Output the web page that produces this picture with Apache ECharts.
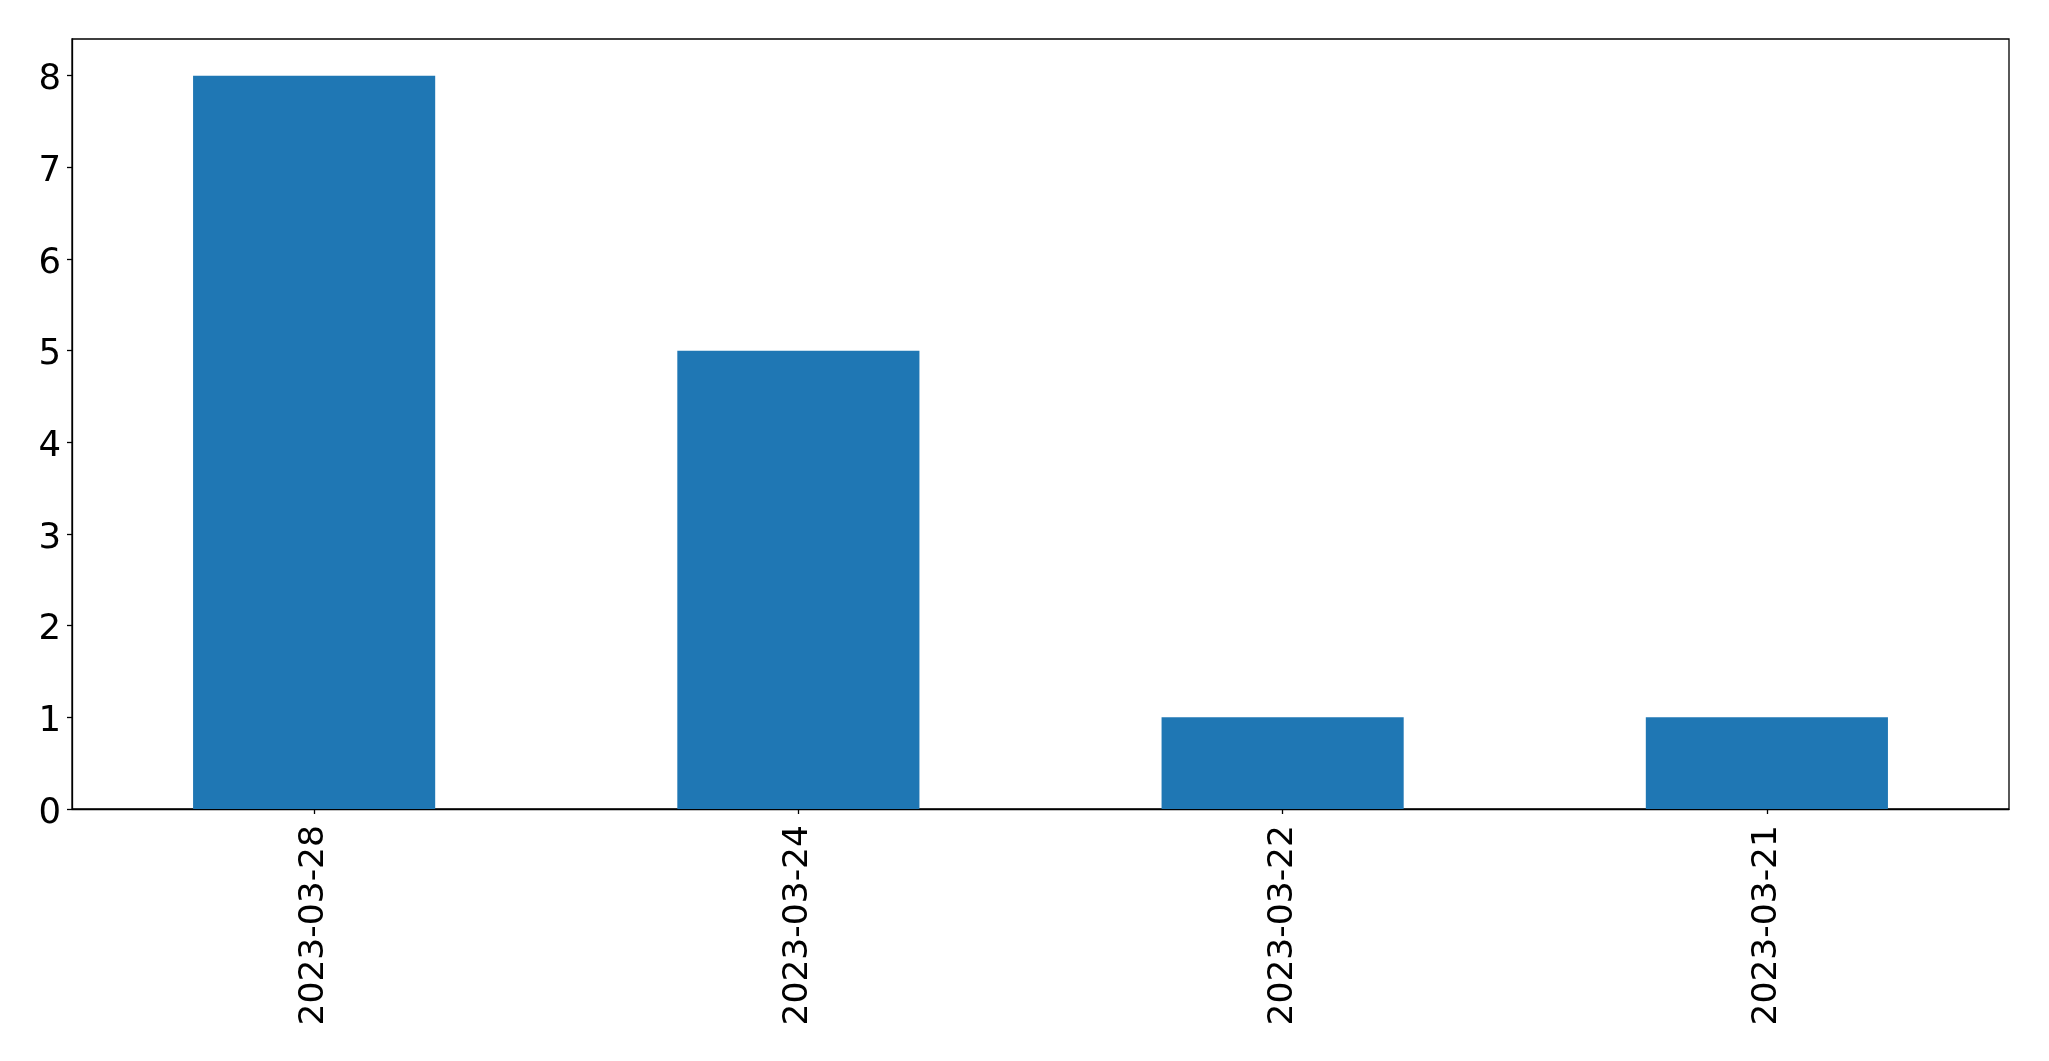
<!DOCTYPE html>
<html>
<head>
<meta charset="utf-8">
<script src="https://cdn.jsdelivr.net/npm/echarts@6/dist/echarts.min.js"></script>
<style>
html,body{margin:0;padding:0;background:#fff;}
#chart{width:2049px;height:1061px;}
</style>
</head>
<body>
<div id="chart"></div>
<script>
const categories = ['2023-03-28', '2023-03-24', '2023-03-22', '2023-03-21'];
const values = [8, 5, 1, 1];
const yTicks = [0, 1, 2, 3, 4, 5, 6, 7, 8];

const chart = echarts.init(document.getElementById('chart'), null, {renderer: 'canvas'});
const font = 'DejaVu Sans';
chart.setOption({
  animation: false,
  backgroundColor: '#ffffff',
  grid: {
    left: 72, top: 39, right: 40, bottom: 252,
    show: true, borderColor: '#000000', borderWidth: 1.3, backgroundColor: 'transparent'
  },
  xAxis: {
    type: 'category',
    data: categories,
    axisLine: {show: true, lineStyle: {color: '#000', width: 1.3}},
    axisTick: {show: true, alignWithLabel: true, length: 5, lineStyle: {color: '#000', width: 1.3}},
    axisLabel: {rotate: 90, fontFamily: font, fontSize: 34.5, color: '#000', margin: 16},
    splitLine: {show: false}
  },
  yAxis: {
    type: 'value',
    min: 0, max: 8.4, interval: 1,
    axisLine: {show: true, lineStyle: {color: '#000', width: 1.3}},
    axisTick: {show: true, length: 5, customValues: yTicks, lineStyle: {color: '#000', width: 1.3}},
    axisLabel: {
      fontFamily: font, fontSize: 35.5, color: '#000', margin: 11,
      customValues: yTicks,
      formatter: function (v) { return Number.isInteger(v) ? '{v|' + v + '}' : ''; },
      rich: {v: {fontFamily: font, fontSize: 35.5, color: '#000', lineHeight: 36, padding: [9, 0, 0, 0]}}
    },
    splitLine: {show: false}
  },
  series: [{
    type: 'bar',
    data: values,
    barWidth: '50%',
    itemStyle: {color: '#1f77b4'}
  }]
});
</script>
</body>
</html>
